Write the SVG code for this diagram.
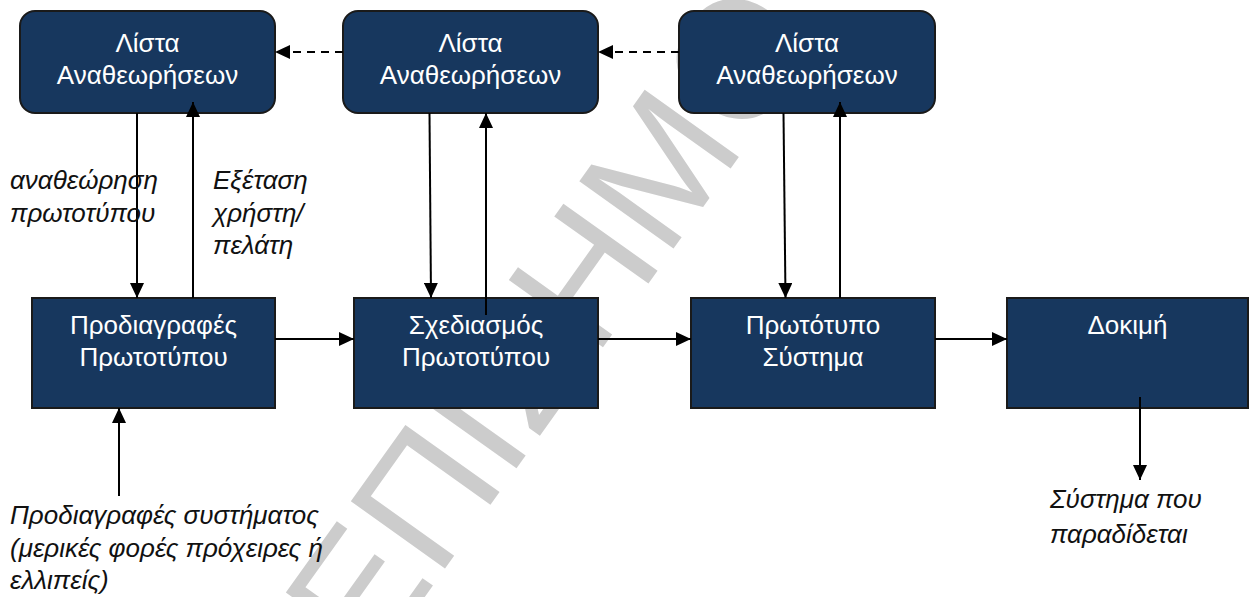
<svg xmlns="http://www.w3.org/2000/svg" width="1249" height="597" viewBox="0 0 1249 597">
  <style>
    .box { fill: #17375e; stroke: #1a1a1a; stroke-width: 2; }
    .lbl { font-family: "Liberation Sans", Arial, sans-serif; font-size: 26px; fill: #ffffff; text-anchor: middle; }
    .note { font-family: "Liberation Sans", Arial, sans-serif; font-size: 26px; font-style: italic; fill: #111111; }
    .conn { stroke: #000000; stroke-width: 2; fill: none; }
    .dash { stroke-dasharray: 8 6; }
    .wm { font-family: "Liberation Sans", Arial, sans-serif; font-size: 168px; fill: #cccccc; }
  </style>
  <defs>
    <marker id="arr" viewBox="0 0 15 14" refX="15" refY="7" markerWidth="15" markerHeight="14" markerUnits="userSpaceOnUse" orient="auto">
      <path d="M0,0 L15,7 L0,14 z" fill="#000000"/>
    </marker>
  </defs>

  <rect width="1249" height="597" fill="#ffffff"/>

  <!-- background stamp -->
  <text class="wm" transform="translate(372,671) rotate(-54.5)">ΕΠΙΣΗΜΟ</text>

  <!-- top row: revision lists -->
  <g id="list1">
    <rect class="box" x="20" y="11" width="255" height="102" rx="15"/>
    <text class="lbl" x="147.5" y="52">Λίστα</text>
    <text class="lbl" x="147.5" y="84">Αναθεωρήσεων</text>
  </g>
  <g id="list2">
    <rect class="box" x="343" y="11" width="255" height="102" rx="15"/>
    <text class="lbl" x="470.5" y="52">Λίστα</text>
    <text class="lbl" x="470.5" y="84">Αναθεωρήσεων</text>
  </g>
  <g id="list3">
    <rect class="box" x="679" y="11" width="256" height="102" rx="15"/>
    <text class="lbl" x="807" y="52">Λίστα</text>
    <text class="lbl" x="807" y="84">Αναθεωρήσεων</text>
  </g>

  <!-- bottom row: process stages -->
  <g id="spec">
    <rect class="box" x="32" y="298" width="243" height="110"/>
    <text class="lbl" x="153.5" y="334">Προδιαγραφές</text>
    <text class="lbl" x="153.5" y="366">Πρωτοτύπου</text>
  </g>
  <g id="design">
    <rect class="box" x="354" y="298" width="244" height="110"/>
    <text class="lbl" x="476" y="334">Σχεδιασμός</text>
    <text class="lbl" x="476" y="366">Πρωτοτύπου</text>
  </g>
  <g id="prototype">
    <rect class="box" x="691" y="298" width="244" height="110"/>
    <text class="lbl" x="813" y="334">Πρωτότυπο</text>
    <text class="lbl" x="813" y="366">Σύστημα</text>
  </g>
  <g id="test">
    <rect class="box" x="1007" y="298" width="241" height="110"/>
    <text class="lbl" x="1127.5" y="334">Δοκιμή</text>
  </g>

  <!-- connectors -->
  <g id="connectors">
    <!-- dashed links between revision lists -->
    <line class="conn dash" x1="343" y1="52" x2="275" y2="52" marker-end="url(#arr)"/>
    <line class="conn dash" x1="679" y1="52" x2="598" y2="52" marker-end="url(#arr)"/>
    <!-- main flow -->
    <line class="conn" x1="275" y1="339" x2="354" y2="339" marker-end="url(#arr)"/>
    <line class="conn" x1="598" y1="339" x2="691" y2="339" marker-end="url(#arr)"/>
    <line class="conn" x1="935" y1="339" x2="1007" y2="339" marker-end="url(#arr)"/>
    <!-- feedback loops -->
    <line class="conn" x1="137" y1="113" x2="137" y2="298" marker-end="url(#arr)"/>
    <line class="conn" x1="193" y1="298" x2="193" y2="102" marker-end="url(#arr)"/>
    <line class="conn" x1="429.5" y1="113" x2="431" y2="298" marker-end="url(#arr)"/>
    <line class="conn" x1="486" y1="315" x2="486" y2="113" marker-end="url(#arr)"/>
    <line class="conn" x1="783.5" y1="113" x2="785.5" y2="298" marker-end="url(#arr)"/>
    <line class="conn" x1="840" y1="298" x2="840" y2="102" marker-end="url(#arr)"/>
    <!-- input and output -->
    <line class="conn" x1="119" y1="496" x2="119" y2="408" marker-end="url(#arr)"/>
    <line class="conn" x1="1140" y1="397" x2="1140" y2="480" marker-end="url(#arr)"/>
  </g>

  <!-- annotations -->
  <g id="notes">
    <text class="note" x="10" y="189">αναθεώρηση</text>
    <text class="note" x="10" y="221.5">πρωτοτύπου</text>
    <text class="note" x="213" y="189">Εξέταση</text>
    <text class="note" x="213" y="221.5">χρήστη/</text>
    <text class="note" x="213" y="254">πελάτη</text>
    <text class="note" x="10" y="524">Προδιαγραφές συστήματος</text>
    <text class="note" x="10" y="556.5">(μερικές φορές πρόχειρες ή</text>
    <text class="note" x="10" y="589">ελλιπείς)</text>
    <text class="note" x="1050" y="508">Σύστημα που</text>
    <text class="note" x="1050" y="543">παραδίδεται</text>
  </g>
</svg>
